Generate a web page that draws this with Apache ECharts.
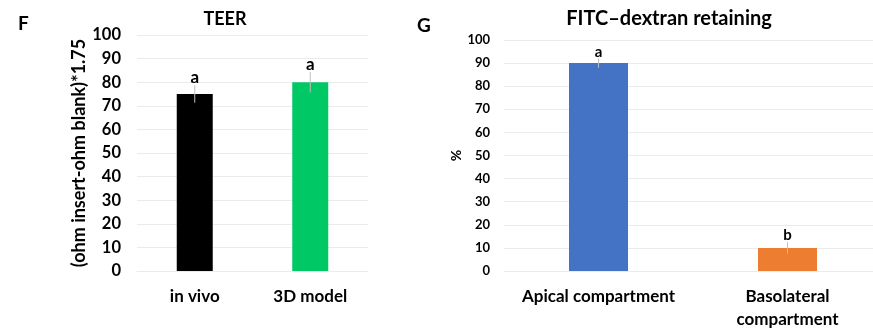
<!DOCTYPE html>
<html><head><meta charset="utf-8">
<script src="https://cdn.jsdelivr.net/npm/echarts@6/dist/echarts.min.js"></script>
<style>html,body{margin:0;padding:0;background:#fff;overflow:hidden}#c{width:882px;height:331px}</style>
</head><body><div id="c"></div>
<script>
// Panel F: TEER
const teerCategories = ['in vivo', '3D model'];
const teerValues = [75, 80];
const teerErrors = [3.7, 4.3];
const teerLetters = ['a', 'a'];
const teerColors = ['#000000', '#00c864'];
// Panel G: FITC-dextran retaining
const fitcCategories = ['Apical compartment', 'Basolateral\ncompartment'];
const fitcValues = [90, 10];
const fitcErrors = [2, 2.5];
const fitcLetters = ['a', 'b'];
const fitcColors = ['#4472c4', '#ed7d31'];
const yTicks = [0, 10, 20, 30, 40, 50, 60, 70, 80, 90, 100];

const FONT = 'Lato';
const chart = echarts.init(document.getElementById('c'));

function errSeries(xi, yi, vals, errs, letters, fs) {
  return {
    type: 'custom', xAxisIndex: xi, yAxisIndex: yi, z: 5,
    data: vals.map((v, i) => [i, v, errs[i]]),
    renderItem: function (params, api) {
      const i = api.value(0), v = api.value(1), e = api.value(2);
      const top = api.coord([i, v + e]);
      const bot = api.coord([i, v - e]);
      return {
        type: 'group',
        children: [
          { type: 'line', shape: { x1: top[0], y1: top[1], x2: bot[0], y2: bot[1] },
            style: { stroke: '#bfbfbf', lineWidth: 1 } },
          { type: 'text', style: { text: letters[params.dataIndex], x: top[0], y: top[1] + 1,
            align: 'center', verticalAlign: 'bottom', font: 'bold ' + fs + 'px ' + FONT, fill: '#000' } }
        ]
      };
    }
  };
}

const yAxisBase = {
  type: 'value', min: 0, max: 100, interval: 10,
  axisLine: { show: false }, axisTick: { show: false },
  splitLine: { lineStyle: { color: '#ebebeb', width: 1 } },
  nameLocation: 'middle', nameRotate: 90
};
const bold = (size) => ({ fontSize: size, fontWeight: 'bold', color: '#000', fontFamily: FONT });

chart.setOption({
  animation: false,
  textStyle: { fontFamily: FONT },
  title: [
    { text: 'F', left: 13, top: 9, textStyle: bold(19) },
    { text: 'TEER', left: 220, top: 5, textAlign: 'center', textStyle: bold(18) },
    { text: 'G', left: 412, top: 11, textStyle: bold(19) },
    { text: 'FITC–dextran retaining', left: 664, top: 4, textAlign: 'center', textStyle: bold(20) }
  ],
  grid: [
    { left: 137, width: 231, top: 35, bottom: 60 },
    { left: 504, width: 378, top: 40, bottom: 60 }
  ],
  xAxis: [
    { type: 'category', gridIndex: 0, data: teerCategories,
      axisLine: { lineStyle: { color: '#ebebeb' } }, axisTick: { show: false },
      axisLabel: Object.assign({ margin: 17, interval: 0 }, bold(17)) },
    { type: 'category', gridIndex: 1, data: fitcCategories,
      axisLine: { lineStyle: { color: '#ebebeb' } }, axisTick: { show: false },
      axisLabel: Object.assign({ margin: 14, interval: 0, lineHeight: 23 }, bold(17)) }
  ],
  yAxis: [
    Object.assign({}, yAxisBase, { gridIndex: 0, name: '(ohm insert-ohm blank)*1.75', nameGap: 47,
      nameTextStyle: bold(18),
      axisLabel: Object.assign({ margin: 16, formatter: v => yTicks.includes(v) ? String(v) : '' }, bold(16.5)) }),
    Object.assign({}, yAxisBase, { gridIndex: 1, name: '%', nameGap: 41,
      nameTextStyle: bold(14),
      axisLabel: Object.assign({ margin: 14, formatter: v => yTicks.includes(v) ? String(v) : '' }, bold(13)) })
  ],
  series: [
    { type: 'bar', xAxisIndex: 0, yAxisIndex: 0, barWidth: 36,
      data: teerValues.map((v, i) => ({ value: v, itemStyle: { color: teerColors[i] } })) },
    errSeries(0, 0, teerValues, teerErrors, teerLetters, 17),
    { type: 'bar', xAxisIndex: 1, yAxisIndex: 1, barWidth: 59,
      data: fitcValues.map((v, i) => ({ value: v, itemStyle: { color: fitcColors[i] } })) },
    errSeries(1, 1, fitcValues, fitcErrors, fitcLetters, 15)
  ]
});
</script></body></html>
